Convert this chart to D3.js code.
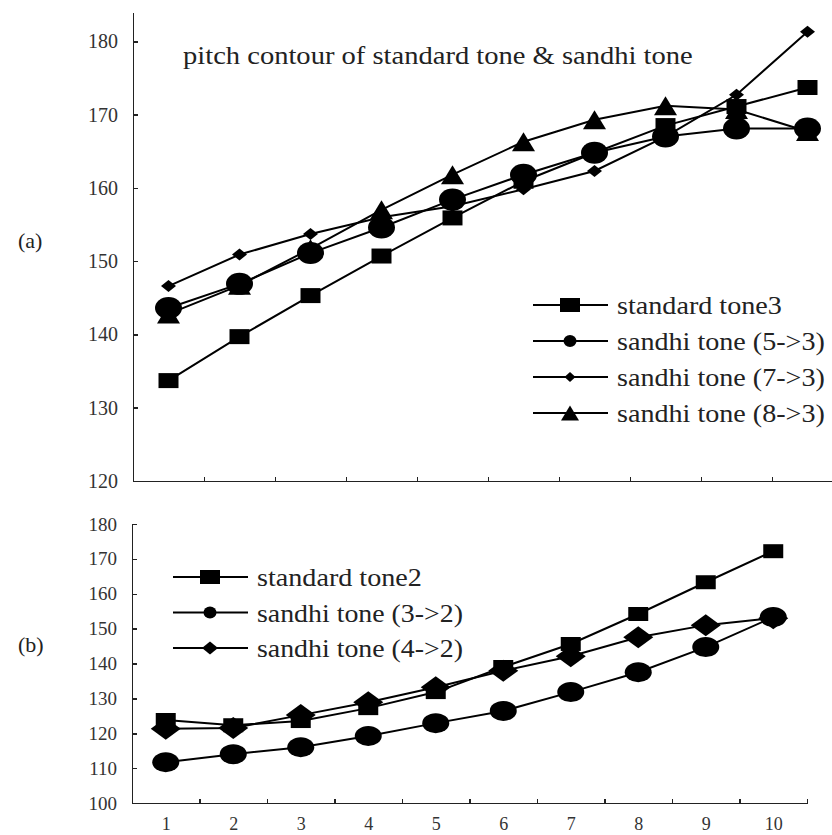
<!DOCTYPE html>
<html>
<head>
<meta charset="utf-8">
<script src="https://cdn.jsdelivr.net/npm/d3@7/dist/d3.min.js"></script>
<style>
body { margin: 0; background: #fff; }
svg text { font-family: "Liberation Serif", "DejaVu Serif", serif; fill: #222; }
.axis path, .axis line { stroke: #222; stroke-width: 1.5; shape-rendering: crispEdges; }
.axis text { fill: #333; }
</style>
</head>
<body>
<div id="chart"></div>
<script>
// Data
var frames = [1, 2, 3, 4, 5, 6, 7, 8, 9, 10];

// (a) tone 3
var standardTone3 = [133.7, 139.7, 145.3, 150.7, 155.9, 160.9, 164.8, 168.5, 171.1, 173.7];
var sandhi53 = [143.6, 146.9, 151.1, 154.6, 158.4, 161.8, 164.8, 167.0, 168.1, 168.1];
var sandhi73 = [146.6, 150.9, 153.7, 156.0, 157.5, 159.8, 162.3, 167.0, 172.7, 181.3];
var sandhi83 = [142.8, 146.7, 151.7, 157.0, 161.8, 166.3, 169.3, 171.2, 170.7, 167.7];
var namesA = ["standard tone3", "sandhi tone (5->3)", "sandhi tone (7->3)", "sandhi tone (8->3)"];
var ticksA = [120, 130, 140, 150, 160, 170, 180];

// (b) tone 2
var standardTone2 = [123.8, 122.3, 123.5, 127.2, 131.8, 139.0, 145.6, 154.2, 163.3, 172.2];
var sandhi32 = [111.7, 114.0, 116.0, 119.2, 122.9, 126.4, 131.8, 137.5, 144.7, 153.3];
var sandhi42 = [121.3, 121.5, 125.2, 128.9, 133.2, 137.9, 142.1, 147.5, 151.0, 153.0];
var namesB = ["standard tone2", "sandhi tone (3->2)", "sandhi tone (4->2)"];
var ticksB = [100, 110, 120, 130, 140, 150, 160, 170, 180];

var title = "pitch contour of standard tone & sandhi tone";

//Settings
var width = 832;
var height = 835;
var serif = "'Liberation Serif', 'DejaVu Serif', serif";

var svg = d3.select("#chart").append("svg")
    .attr("width", width)
    .attr("height", height);

// marker shapes, centred on 0,0
function marker(shape, w, h) {
    var a = w / 2, b = h / 2;
    if (shape == "square") return "M" + (-a) + "," + (-b) + "h" + w + "v" + h + "h" + (-w) + "Z";
    if (shape == "circle") return "M" + (-a) + ",0A" + a + "," + b + " 0 1 0 " + a + ",0A" + a + "," + b + " 0 1 0 " + (-a) + ",0Z";
    if (shape == "triangle") return "M0," + (-b) + "L" + a + "," + b + "L" + (-a) + "," + b + "Z";
    return "M0," + (-b) + "L" + a + ",0L0," + b + "L" + (-a) + ",0Z";
}

// stretch a text sideways so it spans the wanted width (the scan is wider than the font)
function stretch(sel, x, y, target) {
    sel.each(function(d) {
        var w = this.getComputedTextLength();
        var t = typeof target == "function" ? target(d) : target;
        d3.select(this).attr("transform", "translate(" + x + "," + y + ") scale(" + (t / w) + ",1)");
    });
}

function panel(cfg) {
    var x = d3.scaleLinear().domain([0.5, 10.5]).range(cfg.xRange);
    var y = d3.scaleLinear().domain(cfg.yDomain).range(cfg.yRange);

    var yAxis = d3.axisLeft(y)
        .tickValues(cfg.yTicks)
        .tickSizeInner(-5)
        .tickSizeOuter(0)
        .tickPadding(15);
    var yg = svg.append("g")
        .attr("class", "axis")
        .attr("transform", "translate(" + cfg.xRange[0] + ",0)")
        .call(yAxis);
    yg.attr("font-family", serif);
    yg.selectAll("text")
        .style("font-size", cfg.tickFont + "px");

    var xAxis = d3.axisBottom(x)
        .tickValues(frames.map(function(d) { return d + 0.5; }))
        .tickSizeInner(-4)
        .tickSizeOuter(0)
        .tickFormat("");
    svg.append("g")
        .attr("class", "axis")
        .attr("transform", "translate(0," + cfg.yRange[0] + ")")
        .call(xAxis);

    if (cfg.xLabels) {
        var lab = svg.append("g")
            .attr("class", "axis")
            .attr("transform", "translate(0," + cfg.yRange[0] + ")")
            .call(d3.axisBottom(x).tickValues(frames).tickSize(0).tickPadding(14));
        lab.attr("font-family", serif);
        lab.select(".domain").remove();
        lab.selectAll("text").style("font-size", "18px");
    }

    var line = d3.line()
        .x(function(d, i) { return x(frames[i]); })
        .y(function(d) { return y(d); });

    cfg.series.forEach(function(s) {
        svg.append("path")
            .attr("d", line(s.values))
            .attr("fill", "none")
            .attr("stroke", "#000")
            .attr("stroke-width", 2);
        svg.append("g").selectAll("path")
            .data(s.values)
            .enter()
            .append("path")
            .attr("d", marker(s.shape, s.w, s.h))
            .attr("transform", function(d, i) { return "translate(" + x(frames[i]) + "," + y(d) + ")"; })
            .attr("fill", "#000");
    });

    // legend
    var leg = svg.append("g").selectAll("g")
        .data(cfg.series)
        .enter()
        .append("g")
        .attr("transform", function(d, i) { return "translate(" + cfg.legend.x + "," + (cfg.legend.y + i * cfg.legend.step) + ")"; });
    leg.append("line")
        .attr("x1", 0).attr("x2", 75)
        .attr("stroke", "#000").attr("stroke-width", 2);
    leg.append("path")
        .attr("transform", "translate(37,0)")
        .attr("d", function(d) { return marker(d.shape, d.lw, d.lh); });
    leg.append("text")
        .style("font-size", "25px")
        .text(function(d) { return d.name; })
        .call(stretch, 84, 9, function(d) { return d.tl; });

    svg.append("text")
        .attr("x", 18)
        .attr("y", cfg.tagY)
        .style("font-size", "22px")
        .text(cfg.tag);
}

panel({
    xRange: [133, 843],
    yDomain: [120, 184],
    yRange: [481, 12],
    yTicks: ticksA,
    tickFont: 20,
    xLabels: false,
    tag: "(a)",
    tagY: 248,
    legend: { x: 533, y: 305, step: 36 },
    series: [
        { name: namesA[0], values: standardTone3, shape: "square", w: 20, h: 15, lw: 20, lh: 14, tl: 165 },
        { name: namesA[1], values: sandhi53, shape: "circle", w: 27, h: 22, lw: 13, lh: 12, tl: 208 },
        { name: namesA[2], values: sandhi73, shape: "diamond", w: 15, h: 12, lw: 11, lh: 10, tl: 208 },
        { name: namesA[3], values: sandhi83, shape: "triangle", w: 23, h: 19, lw: 18, lh: 15, tl: 208 }
    ]
});

panel({
    xRange: [132, 807],
    yDomain: [100, 180],
    yRange: [803, 524],
    yTicks: ticksB,
    tickFont: 19,
    xLabels: true,
    tag: "(b)",
    tagY: 652,
    legend: { x: 173, y: 577, step: 35.5 },
    series: [
        { name: namesB[0], values: standardTone2, shape: "square", w: 20, h: 14, lw: 20, lh: 14, tl: 165 },
        { name: namesB[1], values: sandhi32, shape: "circle", w: 27, h: 20, lw: 13, lh: 12, tl: 206 },
        { name: namesB[2], values: sandhi42, shape: "diamond", w: 30, h: 22, lw: 16, lh: 13, tl: 206 }
    ]
});

svg.append("text")
    .style("font-size", "26px")
    .text(title)
    .call(stretch, 183, 64, 510);
</script>
</body>
</html>
